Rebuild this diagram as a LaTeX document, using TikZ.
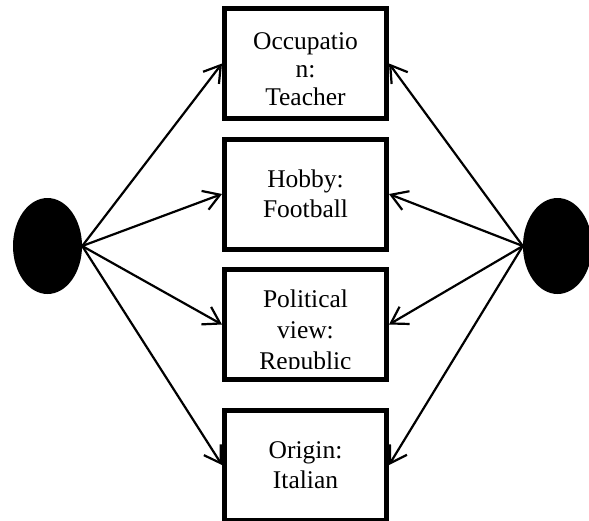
\documentclass[tikz,border=0pt]{standalone}
\usepackage{fontspec}
\setmainfont{Liberation Serif}
\usetikzlibrary{shapes.geometric, arrows.meta}

\tikzset{
    attrbox/.style={draw, line width=5pt, minimum width=162pt, minimum height=110pt,
        inner sep=0pt, align=center, font=\fontsize{25.5}{30}\selectfont},
    attrtext/.style={align=center, inner sep=0pt},
    blob/.style={ellipse, fill=black, minimum width=69pt, minimum height=96pt, inner sep=0pt},
    link/.style={line width=2.2pt, -{Straight Barb[length=16pt, width=20pt, line width=2.2pt]}}
}

\begin{document}
\begin{tikzpicture}[x=1pt, y=-1pt]
    \useasboundingbox (0,0) rectangle (589,520);

    % The two people, one at each side
    \node[blob] (left) at (47.5,246) {};
    \node[blob] (right) at (557.5,246) {};

    % Attribute boxes in a column
    \node[attrbox] (occ) at (305.5,63.5) {};
    \node[attrbox] (hob) at (305.5,194) {Hobby:\\Football};
    \node[attrbox] (pol) at (305.5,324.5) {};
    \node[attrbox] (ori) at (305.5,465) {Origin:\\Italian};

    % Texts that sit lower than the box middle
    \node[attrtext, font=\fontsize{25.5}{28}\selectfont] (occtext)
        at ([yshift=-6pt]occ.center) {Occupatio\\n:\\Teacher};
    \begin{scope}
        \clip (227,272) rectangle (384,368);
        \node[attrtext, font=\fontsize{25.5}{31}\selectfont] (poltext)
            at ([yshift=-8pt]pol.center) {Political\\view:\\Republic};
    \end{scope}

    % Arrows from both people to every box
    \foreach \b in {occ,hob,pol,ori} {
        \draw[link] (left.east) -- (\b.west);
        \draw[link] (right.west) -- (\b.east);
    }
\end{tikzpicture}
\end{document}
